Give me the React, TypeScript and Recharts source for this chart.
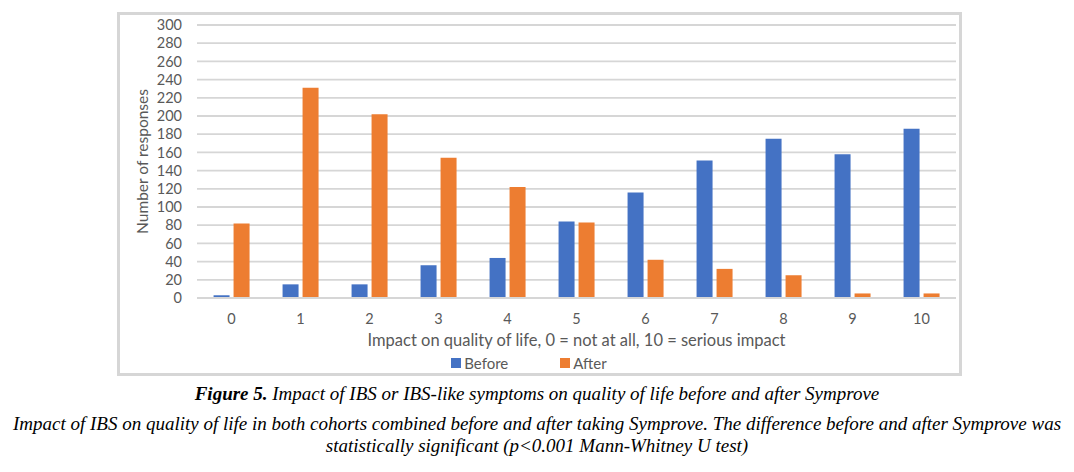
import React from "react";
import { BarChart, Bar, XAxis, YAxis, CartesianGrid, Legend } from "recharts";

const categories = ["0", "1", "2", "3", "4", "5", "6", "7", "8", "9", "10"];
const beforeValues = [3, 15, 15, 36, 44, 84, 116, 151, 175, 158, 186];
const afterValues = [82, 231, 202, 154, 122, 83, 42, 32, 25, 5, 5];
const yTicks = [0, 20, 40, 60, 80, 100, 120, 140, 160, 180, 200, 220, 240, 260, 280, 300];
const seriesNames = ["Before", "After"];
const seriesColors = ["#4472C4", "#ED7D31"];

const data = categories.map((c, i) => ({
  name: c,
  Before: beforeValues[i],
  After: afterValues[i],
}));

const axisFont = { fontFamily: "Lato, 'Open Sans', sans-serif", fontSize: 14.5, fill: "#595959" };

function LegendContent() {
  return (
    <div style={{ display: "flex", justifyContent: "center", gap: 52, fontFamily: "Lato, sans-serif", fontSize: 15, color: "#595959", marginLeft: -18 }}>
      {seriesNames.map((name, i) => (
        <div key={name} style={{ display: "flex", alignItems: "center", gap: 3 }}>
          <span style={{ display: "inline-block", width: 10, height: 10, background: seriesColors[i] }} />
          <span>{name}</span>
        </div>
      ))}
    </div>
  );
}

export default function App() {
  return (
    <div style={{ position: "absolute", left: 0, top: 0, width: 1074, height: 472, background: "#fff" }}>
      <div
        style={{
          position: "absolute",
          left: 117,
          top: 12,
          width: 839,
          height: 358,
          border: "3px solid #d6d6d6",
        }}
      >
        <BarChart
          width={839}
          height={358}
          data={data}
          margin={{ top: 10, right: 3, left: 0, bottom: 0 }}
          barCategoryGap="24%"
          barGap={4}
        >
          <CartesianGrid vertical={false} stroke="#d6d6d6" strokeWidth={1.8} />
          <XAxis
            dataKey="name"
            height={50}
            tickLine={false}
            axisLine={{ stroke: "#d6d6d6", strokeWidth: 1.8 }}
            tick={axisFont}
            tickMargin={10}
            label={{
              value: "Impact on quality of life, 0 = not at all, 10 = serious impact",
              position: "insideBottom",
              offset: 2,
              style: { ...axisFont, fontSize: 16.5 },
            }}
          />
          <YAxis
            width={77}
            domain={[0, 300]}
            ticks={yTicks}
            interval={0}
            tickLine={false}
            axisLine={false}
            tickSize={0}
            tickMargin={15}
            tick={axisFont}
            label={{
              value: "Number of responses",
              angle: -90,
              position: "center",
              dx: -16,
              style: { ...axisFont, fontSize: 15.5, textAnchor: "middle" },
            }}
          />
          <Legend content={<LegendContent />} wrapperStyle={{ height: 25, bottom: -6 }} />
          <Bar dataKey="Before" fill={seriesColors[0]} isAnimationActive={false} />
          <Bar dataKey="After" fill={seriesColors[1]} isAnimationActive={false} />
        </BarChart>
      </div>
      <div
        style={{
          position: "absolute",
          left: 0,
          top: 383,
          width: 1074,
          textAlign: "center",
          fontFamily: "'Liberation Serif', serif",
          fontStyle: "italic",
          fontSize: 19,
          color: "#000",
          lineHeight: "22px",
          whiteSpace: "nowrap",
        }}
      >
        <div>
          <b>Figure 5.</b> Impact of IBS or IBS-like symptoms on quality of life before and after Symprove
        </div>
        <div style={{ marginTop: 8 }}>
          Impact of IBS on quality of life in both cohorts combined before and after taking Symprove. The difference before and after Symprove was
        </div>
        <div>statistically significant (p&lt;0.001 Mann-Whitney U test)</div>
      </div>
    </div>
  );
}
